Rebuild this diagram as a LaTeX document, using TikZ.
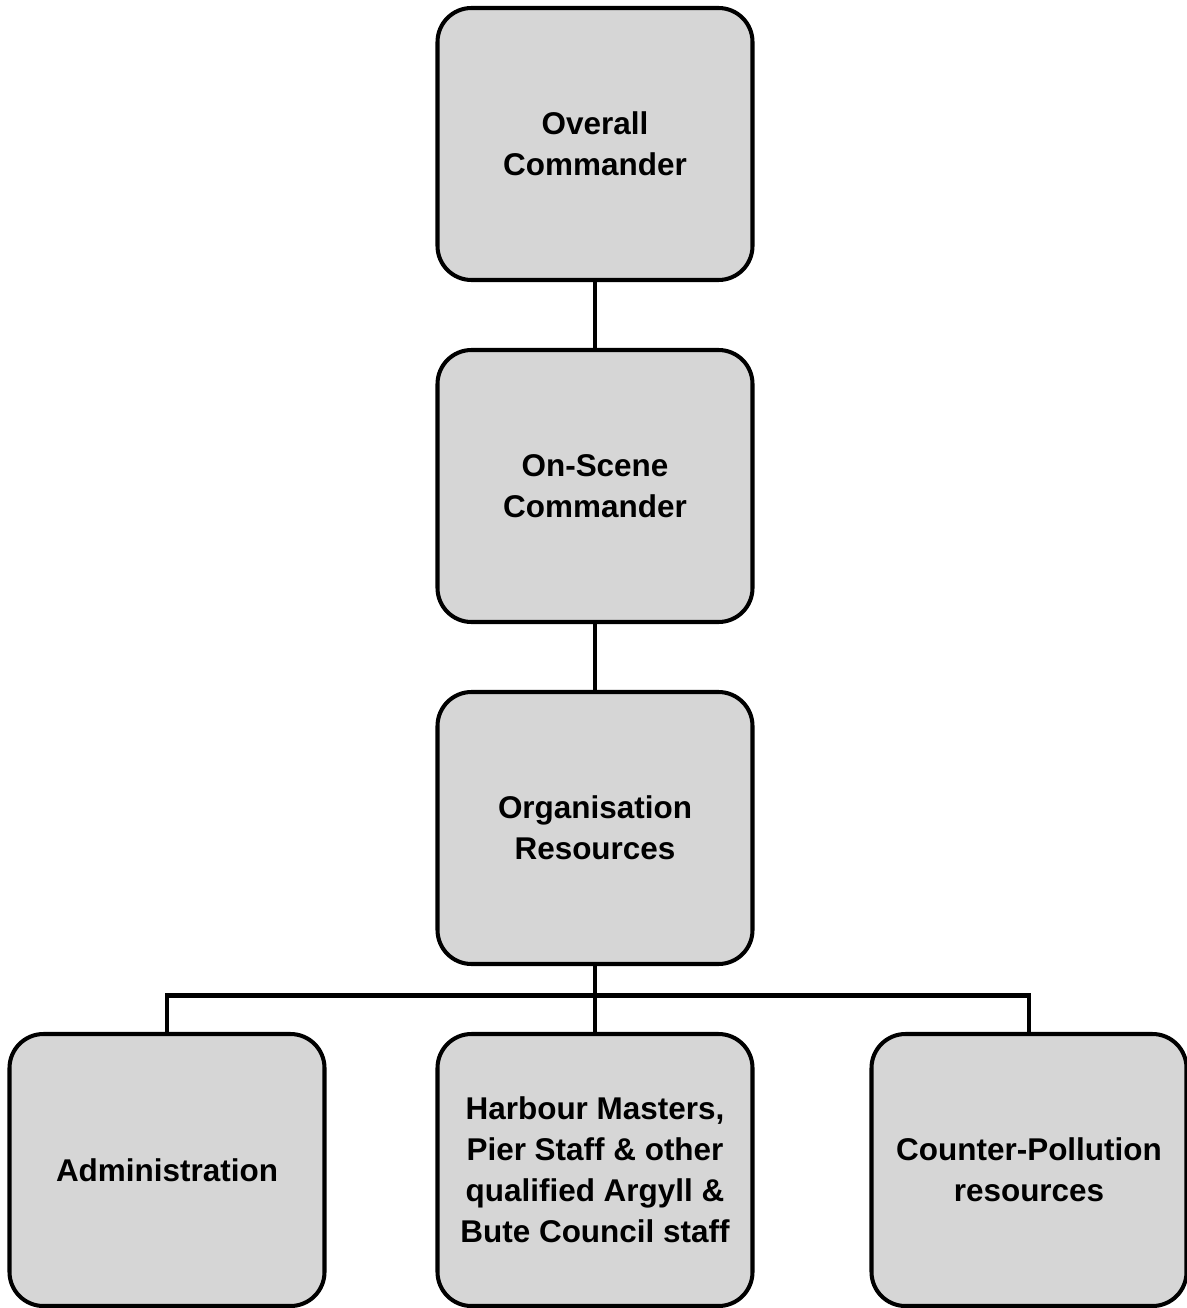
\documentclass[tikz,border=0pt]{standalone}
\usepackage{fontspec}
\setmainfont{Liberation Sans}
\usetikzlibrary{positioning,calc}
\definecolor{boxgray}{RGB}{214,214,214}

\begin{document}
\begin{tikzpicture}[
  font=\bfseries\fontsize{17.9}{23.4}\selectfont,
  line width=2.3pt,
  role/.style={draw, rounded corners=0.68cm, fill=boxgray, align=center, outer sep=0pt, minimum width=6.3cm, minimum height=5.44cm, inner sep=0pt}
]
\useasboundingbox (0,0) rectangle (23.74,-26.16);

\node[role] (overall) at (11.9,-2.88) {Overall\\Commander};
\node[role, below=1.4cm of overall] (onscene) {On-Scene\\Commander};
\node[role, below=1.4cm of onscene] (orgres) {Organisation\\Resources};
\node[role, below=1.4cm of orgres] (harbour) {Harbour Masters,\\Pier Staff \& other\\qualified Argyll \&\\Bute Council staff};
\node[role, left=2.26cm of harbour] (admin) {Administration};
\node[role, right=2.38cm of harbour] (pollution) {Counter-Pollution\\resources};

\draw (overall) -- (onscene);
\draw (onscene) -- (orgres);
\draw (orgres) -- (harbour);

\coordinate (bus) at ($(orgres.south)!0.45!(harbour.north)$);
\draw (admin.north) |- (bus) -| (pollution.north);

\end{tikzpicture}
\end{document}
